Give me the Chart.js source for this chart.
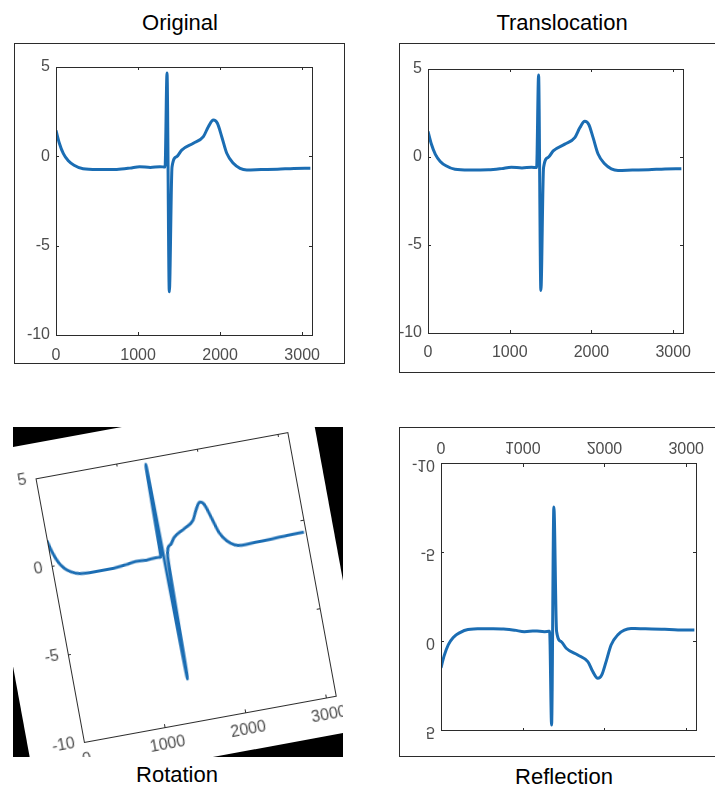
<!DOCTYPE html>
<html lang="en">
<head>
<meta charset="UTF-8">
<title>ECG augmentation</title>
<script src="https://cdn.jsdelivr.net/npm/chart.js"></script>
<style>
  body { margin: 0; background: #fff; font-family: "Liberation Sans", Arial, sans-serif; }
  #page { position: relative; width: 715px; height: 789px; overflow: hidden; }
  .title { position: absolute; font-size: 22px; line-height: 22px; color: #000; transform: translateX(-50%); white-space: nowrap; }
  .frame { position: absolute; border: 1px solid #2b2b2b; box-sizing: border-box; }
  canvas { position: absolute; }
</style>
</head>
<body>
<div id="page">
  <div class="title" style="left:180px; top:12px;">Original</div>
  <div class="title" style="left:562px; top:12px;">Translocation</div>
  <div class="title" style="left:177px; top:764px;">Rotation</div>
  <div class="title" style="left:564px; top:766px;">Reflection</div>

  <!-- original -->
  <div class="frame" style="left:14px; top:43px; width:331px; height:321px;"></div>
  <canvas id="cOrig" width="330" height="320" style="left:14px; top:43px;"></canvas>

  <!-- translocation -->
  <div class="frame" style="left:399px; top:43px; width:330px; height:330px;"></div>
  <canvas id="cTrans" width="340" height="329" style="left:389px; top:43px;"></canvas>

  <!-- rotation: white figure turned inside a black box -->
  <div style="position:absolute; left:13px; top:427px; width:330px; height:330px; background:#000; overflow:hidden;">
    <div style="position:absolute; left:-11.4px; top:-8.4px; width:340px; height:341px; background:#fff; transform-origin:179px 171px; transform:rotate(-10.4deg);"></div>
    <div style="position:absolute; left:2.6px; top:2.6px; width:330px; height:320px; transform-origin:165px 160px; transform:rotate(-10.4deg);">
      <canvas id="cRot" width="330" height="320" style="left:0; top:0;"></canvas>
    </div>
  </div>

  <!-- reflection: same figure flipped upside down -->
  <div class="frame" style="left:399px; top:427px; width:330px; height:330px;"></div>
  <canvas id="cRefl" width="330" height="329" style="left:399px; top:427px; transform:scaleY(-1);"></canvas>
</div>

<script>
    const sampleX = [0, 40, 90, 150, 220, 330, 500, 740, 900, 1020, 1150, 1268, 1329, 1353, 1381, 1414, 1471, 1532,
                     1674, 1796, 1857, 1918, 1967, 2020, 2081, 2161, 2243, 2325, 2500, 2700, 2900, 3100];
    const sampleY = [1.45, 0.75, 0.15, -0.25, -0.5, -0.7, -0.74, -0.73, -0.66, -0.58, -0.62, -0.58, -0.6, 4.66, -7.58, -0.6, -0.02, 0.35,
                     0.73, 1.1, 1.66, 2.03, 1.85, 1.1, 0.17, -0.39, -0.67, -0.76, -0.74, -0.72, -0.68, -0.67];

    const xTicks = [0, 1000, 2000, 3000];
    const yTicks = [-10, -5, 0, 5];

    const lineColor = '#1b6db3';
    const labelColor = '#4d4d4d';

    // plot box and inward tick marks, matlab style
    const boxPlugin = {
        id: 'box',
        afterDraw(chart) {
            const ctx = chart.ctx;
            const a = chart.chartArea;
            const x = chart.scales.x, y = chart.scales.y;
            ctx.save();
            ctx.strokeStyle = '#2b2b2b';
            ctx.lineWidth = 1;
            ctx.strokeRect(Math.round(a.left) + 0.5, Math.round(a.top) + 0.5,
                Math.round(a.right - a.left), Math.round(a.bottom - a.top));
            ctx.beginPath();
            x.ticks.forEach(t => {
                const px = Math.round(x.getPixelForValue(t.value)) + 0.5;
                ctx.moveTo(px, a.bottom); ctx.lineTo(px, a.bottom - 3);
                ctx.moveTo(px, a.top); ctx.lineTo(px, a.top + 3);
            });
            y.ticks.forEach(t => {
                const py = Math.round(y.getPixelForValue(t.value)) + 0.5;
                ctx.moveTo(a.left, py); ctx.lineTo(a.left + 3, py);
                ctx.moveTo(a.right, py); ctx.lineTo(a.right - 3, py);
            });
            ctx.stroke();
            ctx.restore();
        }
    };

    function makeChart(id, lay) {
        const points = sampleX.map((v, i) => ({ x: v, y: sampleY[i] }));
        const tickFont = { family: 'Liberation Sans', size: 16 };
        return new Chart(document.getElementById(id), {
            type: 'line',
            data: {
                datasets: [{
                    data: points,
                    borderColor: lineColor,
                    borderWidth: 3,
                    pointRadius: 0,
                    cubicInterpolationMode: 'monotone',
                    fill: false
                }]
            },
            options: {
                responsive: false,
                animation: false,
                devicePixelRatio: 1,
                layout: { padding: { top: lay.top, right: lay.right, left: 0, bottom: 0 } },
                plugins: { legend: { display: false }, tooltip: { enabled: false } },
                scales: {
                    x: {
                        type: 'linear',
                        min: 0,
                        max: 3120,
                        grid: { display: false, drawTicks: false },
                        border: { display: false },
                        afterBuildTicks: s => { s.ticks = xTicks.map(v => ({ value: v })); },
                        afterFit: s => { s.height = lay.xh; },
                        ticks: {
                            autoSkip: false,
                            maxRotation: 0,
                            padding: lay.xpad,
                            color: labelColor,
                            font: tickFont,
                            callback: v => String(v)
                        }
                    },
                    y: {
                        min: -10,
                        max: 5,
                        grid: { display: false, drawTicks: false },
                        border: { display: false },
                        afterBuildTicks: s => { s.ticks = yTicks.map(v => ({ value: v })); },
                        afterFit: s => { s.width = lay.yw; },
                        ticks: {
                            padding: lay.ypad,
                            color: labelColor,
                            font: tickFont,
                            callback: v => String(v)
                        }
                    }
                }
            },
            plugins: [boxPlugin]
        });
    }

    makeChart('cOrig', { top: 24, right: 32, xh: 28, yw: 42, xpad: 11, ypad: 6 });
    makeChart('cTrans', { top: 26, right: 46, xh: 39, yw: 39, xpad: 10, ypad: 6 });
    makeChart('cRot', { top: 24, right: 32, xh: 28, yw: 42, xpad: 8, ypad: 9 });
    makeChart('cRefl', { top: 25, right: 33, xh: 37, yw: 42, xpad: 8, ypad: 6 });
</script>
</body>
</html>
